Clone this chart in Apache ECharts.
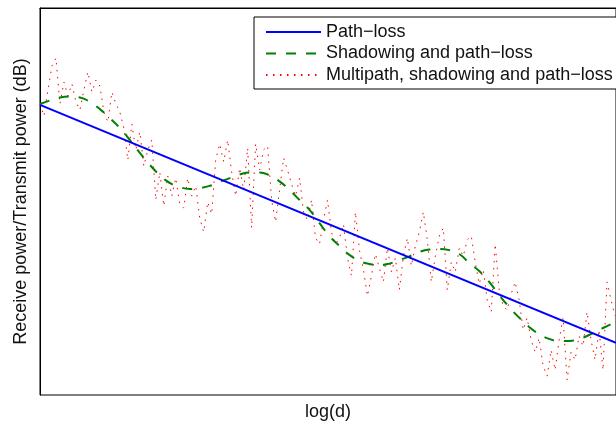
<!DOCTYPE html>
<html>
<head>
<meta charset="utf-8">
<script src="https://cdn.jsdelivr.net/npm/echarts@6/dist/echarts.min.js"></script>
<style>html,body{margin:0;padding:0;background:#fff;}#c{width:616px;height:426px;}</style>
</head>
<body>
<div id="c"></div>
<script>
// log(d) range of the plot
const xRange = [0, 5.77];
const yRange = [-129, 0];

// Path-loss: straight line (log(d), dB)
const pathLoss = [[0, -32.3], [5.77, -111.6]];

// Shadowing and path-loss (log(d), dB)
const shadowing = [
  [0.0,-32.0],[0.1,-30.8],[0.2,-29.8],[0.3,-29.5],[0.4,-29.8],[0.5,-31.3],[0.6,-33.7],[0.7,-36.7],
  [0.8,-40.0],[0.9,-44.0],[1.0,-48.3],[1.1,-52.3],[1.2,-55.7],[1.3,-58.3],[1.4,-59.7],[1.5,-60.3],
  [1.6,-60.0],[1.7,-59.3],[1.8,-58.0],[1.9,-56.7],[2.0,-55.5],[2.1,-54.8],[2.2,-54.8],[2.3,-55.8],
  [2.4,-57.8],[2.5,-60.7],[2.6,-64.0],[2.7,-67.3],[2.8,-71.7],[2.9,-76.0],[3.0,-79.3],[3.1,-82.3],
  [3.2,-84.3],[3.3,-85.3],[3.4,-85.7],[3.5,-85.2],[3.6,-84.0],[3.7,-82.8],[3.8,-81.3],[3.9,-80.5],
  [4.0,-80.3],[4.1,-80.7],[4.2,-82.0],[4.3,-85.0],[4.4,-87.7],[4.5,-91.3],[4.6,-95.7],[4.7,-99.7],
  [4.8,-103.2],[4.9,-106.3],[5.0,-108.7],[5.1,-110.3],[5.2,-111.0],[5.3,-111.0],[5.4,-110.3],
  [5.5,-109.0],[5.6,-107.3],[5.7,-105.7],[5.77,-104.5]
];

// Multipath, shadowing and path-loss: samples every 0.04 in log(d), starting at 0
const multipathStep = 0.04;
const multipath = [
  -32.0,-36.0,-27.3,-19.3,-16.7,-32.0,-24.7,-29.3,-25.3,-31.3,
  -34.0,-27.3,-21.3,-28.0,-24.0,-26.0,-34.7,-38.0,-28.0,-32.0,
  -34.7,-40.0,-50.7,-38.7,-47.3,-41.3,-52.7,-47.3,-44.0,-64.0,
  -54.7,-66.0,-56.0,-62.7,-56.7,-65.3,-66.7,-56.7,-62.7,-59.3,
  -70.0,-74.7,-64.7,-68.7,-50.7,-45.3,-51.3,-44.0,-54.7,-62.7,
  -53.3,-60.7,-46.7,-73.3,-45.3,-54.0,-47.3,-46.0,-64.0,-71.3,
  -60.7,-50.0,-54.0,-58.7,-62.7,-56.7,-68.0,-70.7,-64.0,-76.7,
  -78.7,-70.7,-64.0,-74.7,-78.7,-76.7,-72.0,-83.3,-89.3,-68.0,
  -80.7,-87.3,-96.0,-89.3,-82.0,-86.7,-91.3,-80.0,-88.0,-83.3,
  -94.0,-82.7,-76.7,-86.0,-79.3,-74.7,-68.0,-77.3,-91.3,-82.7,
  -76.0,-73.3,-94.0,-84.7,-88.0,-80.0,-82.7,-77.3,-76.0,-84.7,
  -92.0,-87.3,-97.3,-101.3,-78.7,-94.0,-99.3,-100.7,-95.3,-91.3,
  -97.3,-107.3,-103.3,-110.7,-114.7,-110.0,-119.3,-122.7,-114.0,-120.7,
  -110.7,-103.3,-124.0,-114.7,-117.3,-109.3,-112.7,-101.3,-110.7,-117.3,
  -107.3,-120.7,-91.3,-97.3,-102.7
];

const seriesNames = ['Path\u2212loss', 'Shadowing and path\u2212loss', 'Multipath, shadowing and path\u2212loss'];
const xName = 'log(d)';
const yName = 'Receive power/Transmit power (dB)';

const multipathData = multipath.map((v, i) => [+(i * multipathStep).toFixed(2), v]);

const chart = echarts.init(document.getElementById('c'));
const font = 'Liberation Sans, Arial, Helvetica, sans-serif';
chart.setOption({
  animation: false,
  backgroundColor: '#fff',
  textStyle: { fontFamily: font },
  grid: { left: 40, right: -1, top: 8, bottom: 31, show: true, borderColor: '#000', borderWidth: 1, backgroundColor: 'transparent' },
  xAxis: {
    type: 'value', min: xRange[0], max: xRange[1],
    name: xName, nameLocation: 'middle', nameGap: 8,
    nameTextStyle: { fontSize: 18, color: '#111', fontFamily: font },
    axisLine: { show: true, lineStyle: { color: '#000', width: 1 } },
    axisTick: { show: false }, axisLabel: { show: false }, splitLine: { show: false }
  },
  yAxis: {
    type: 'value', min: yRange[0], max: yRange[1],
    name: yName, nameLocation: 'middle', nameGap: 10,
    nameTextStyle: { fontSize: 18, color: '#111', fontFamily: font },
    axisLine: { show: true, lineStyle: { color: '#000', width: 1 } },
    axisTick: { show: false }, axisLabel: { show: false }, splitLine: { show: false }
  },
  legend: {
    orient: 'vertical', left: 254, top: 17,
    padding: [6, 6, 5, 11],
    itemWidth: 55, itemHeight: 18, itemGap: 3.5,
    itemStyle: { opacity: 0 },
    borderColor: '#000', borderWidth: 1, backgroundColor: '#fff',
    textStyle: { fontSize: 18, color: '#111', fontFamily: font },
    data: seriesNames
  },
  series: [
    {
      name: seriesNames[2], type: 'line', data: multipathData, showSymbol: false, symbol: 'none',
      lineStyle: { color: '#ff0000', width: 1, type: [1.5, 5.5] }, itemStyle: { color: '#ff0000' }, z: 1
    },
    {
      name: seriesNames[1], type: 'line', data: shadowing, smooth: true, showSymbol: false, symbol: 'none',
      lineStyle: { color: '#008000', width: 2, type: [10, 10] }, itemStyle: { color: '#008000' }, z: 2
    },
    {
      name: seriesNames[0], type: 'line', data: pathLoss, showSymbol: false, symbol: 'none',
      lineStyle: { color: '#0000ff', width: 2 }, itemStyle: { color: '#0000ff' }, z: 3
    }
  ]
});
</script>
</body>
</html>
